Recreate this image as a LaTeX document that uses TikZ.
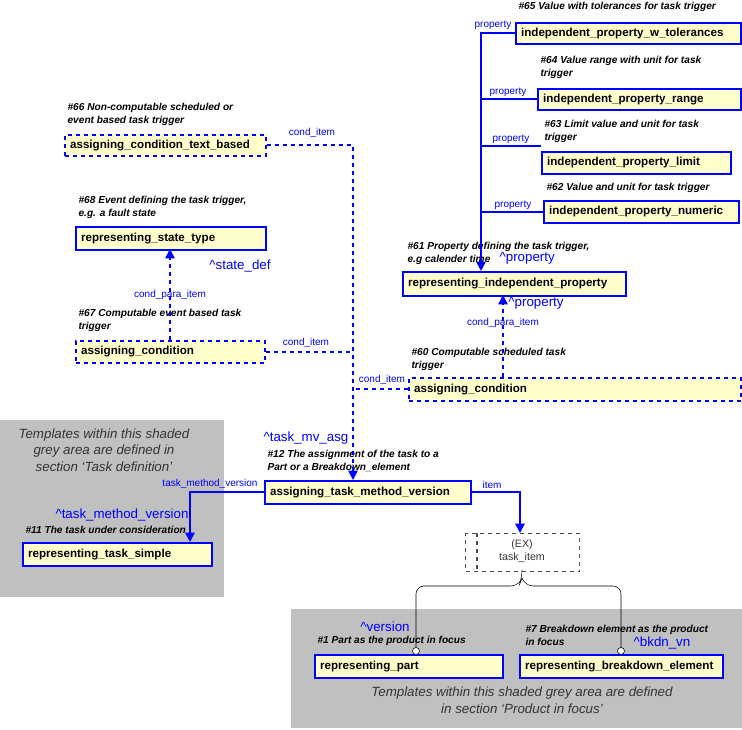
\documentclass[tikz,border=0pt]{standalone}
\usepackage{fontspec}
\setmainfont{Liberation Sans}
\usetikzlibrary{arrows.meta}
\definecolor{boxfill}{RGB}{255,255,204}
\definecolor{lblue}{RGB}{0,0,255}
\definecolor{greyarea}{RGB}{192,192,192}
\tikzset{
  box/.style={draw=lblue, line width=1.2pt, fill=boxfill, anchor=north west, inner xsep=4pt, inner ysep=0pt, font=\fontsize{8.7}{9}\selectfont\bfseries, align=left},
  dbox/.style={box, dashed},
  note/.style={anchor=south west, font=\fontsize{7.6}{9.3}\selectfont\bfseries\itshape, align=left, inner sep=1pt},
  lab/.style={text=lblue, font=\fontsize{7.5}{8}\selectfont, inner sep=1pt},
  blab/.style={text=lblue, font=\fontsize{10}{10}\selectfont, inner sep=1pt},
  con/.style={draw=lblue, line width=1.3pt},
  dcon/.style={con, dashed},
  arr/.style={-{Triangle[length=7pt,width=7pt]}},
  grey/.style={font=\fontsize{10}{12.5}\selectfont\itshape, text=black!80, align=center}
}
\newcommand{\bx}[7]{\node[#7, minimum width={(#4-#2)*0.75pt}, minimum height={(#5-#3)*0.75pt}, text width={(#4-#2)*0.75pt-8pt}] (#1) at (#2,#3) {#6};}
\begin{document}
\begin{tikzpicture}[x=0.75pt,y=-0.75pt]
\useasboundingbox (0,0) rectangle (742,730);
% grey areas
\fill[greyarea] (0,420) rectangle (224,597);
\fill[greyarea] (291,609) rectangle (742,728);
\node[grey] (g1) at (104,450) {Templates within this shaded\\grey area are defined in\\section `Task definition'};
\node[grey] (g2) at (522,700) {Templates within this shaded grey area are defined\\in section `Product in focus'};
% boxes
\bx{wtol}{515}{22}{740}{43}{independent\_property\_w\_tolerances}{box}
\bx{range}{537}{88}{740}{109}{independent\_property\_range}{box}
\bx{limit}{541}{151}{730}{173}{independent\_property\_limit}{box}
\bx{numeric}{543}{200}{738}{222}{independent\_property\_numeric}{box}
\bx{rip}{402}{271}{625}{295}{representing\_independent\_property}{box}
\bx{actb}{64}{134}{265}{155}{assigning\_condition\_text\_based}{dbox}
\bx{rst}{75}{226}{265}{249}{representing\_state\_type}{box}
\bx{ac67}{75}{340}{264}{362}{assigning\_condition}{dbox}
\bx{ac60}{408}{377}{740}{400}{assigning\_condition}{dbox}
\bx{atmv}{264}{480}{470}{503}{assigning\_task\_method\_version}{box}
\bx{rts}{22}{542}{211}{565}{representing\_task\_simple}{box}
\bx{rp}{314}{654}{502}{677}{representing\_part}{box}
\bx{rbe}{519}{654}{722}{677}{representing\_breakdown\_element}{box}
% task item
\node[draw=black!70, dashed, thick, minimum width={114*0.75pt}, minimum height={38*0.75pt}, anchor=north west, inner sep=0pt] (ti) at (465,533) {};
\draw[black!70, dashed, thick] (477,533) -- (477,571);
\node[font=\fontsize{8}{9.5}\selectfont, align=center, text=black!80] (titxt) at (522,551) {(EX)\\task\_item};
% notes
\node[note] (n65) at (517,13) {\#65 Value with tolerances for task trigger};
\node[note] (n64) at (539,80) {\#64 Value range with unit for task\\trigger};
\node[note] (n63) at (543,144) {\#63 Limit value and unit for task\\trigger};
\node[note] (n62) at (545,194) {\#62 Value and unit for task trigger};
\node[note] (n61) at (406,266) {\#61 Property defining the task trigger,\\e.g calender time};
\node[note] (n66) at (66,127) {\#66 Non-computable scheduled or\\event based task trigger};
\node[note] (n68) at (77,220) {\#68 Event defining the task trigger,\\e.g. a fault state};
\node[note] (n67) at (77,333) {\#67 Computable event based task\\trigger};
\node[note] (n60) at (410,372) {\#60 Computable scheduled task\\trigger};
\node[note] (n12) at (266,473) {\#12 The assignment of the task to a\\Part or a Breakdown\_element};
\node[note] (n11) at (24,535) {\#11 The task under consideration};
\node[note] (n1) at (316,647) {\#1 Part as the product in focus};
\node[note] (n7) at (524,647) {\#7 Breakdown element as the product\\in focus};
% property connectors
\draw[con,arr] (wtol.west) -| (481,271);
\draw[con] (range.west) -- (range.west -| 481,0);
\draw[con] (541,146) -- (481,146);
\draw[con] (numeric.west) -- (numeric.west -| 481,0);
\node[lab, anchor=south] (l1) at (493,31) {property};
\node[lab, anchor=south] (l2) at (508,98) {property};
\node[lab, anchor=south] (l3) at (511,145) {property};
\node[lab, anchor=south] (l4) at (513,211) {property};
\node[blab, anchor=west] (bp1) at (498,258) {\textasciicircum property};
% cond items
\draw[dcon,arr] (actb.east) -| (353,480);
\draw[dcon] (ac67.east) -- (ac67.east -| 353,0);
\draw[dcon] (ac60.west) -- (ac60.west -| 353,0);
\node[lab, anchor=south] (c1) at (312,139) {cond\_item};
\node[lab, anchor=south] (c2) at (306,349) {cond\_item};
\node[lab, anchor=south] (c3) at (382,386) {cond\_item};
% cond para items
\draw[dcon,arr] (170,340) -- (170,249);
\draw[dcon,arr] (503,377) -- (503,295);
\node[lab] (cp1) at (170,295) {cond\_para\_item};
\node[lab] (cp2) at (503,323) {cond\_para\_item};
\node[blab] (sd) at (240,266) {\textasciicircum state\_def};
\node[blab] (bp2) at (536,303) {\textasciicircum property};
\node[blab] (tma) at (306,438) {\textasciicircum task\_mv\_asg};
% atmv connectors
\draw[con,arr] (atmv.west) -| (190,542);
\draw[con,arr] (atmv.east) -| (520,533);
\node[lab, anchor=south] (tmv) at (210,490) {task\_method\_version};
\node[blab] (tmv2) at (122,515) {\textasciicircum task\_method\_version};
\node[lab, anchor=south] (it) at (492,490) {item};
% brace
\draw[black, thin, rounded corners=6pt] (522,571) -- (522,578) -- (519,586) -- (416,586) -- (416,650);
\draw[black, thin, rounded corners=6pt] (522,578) -- (525,586) -- (621,586) -- (621,650);
\draw[black, fill=white] (416,651) circle (3.5);
\draw[black, fill=white] (621,651) circle (3.5);
\node[blab] (ver) at (385,627) {\textasciicircum version};
\node[blab] (bk) at (662,643) {\textasciicircum bkdn\_vn};
\end{tikzpicture}
\end{document}
